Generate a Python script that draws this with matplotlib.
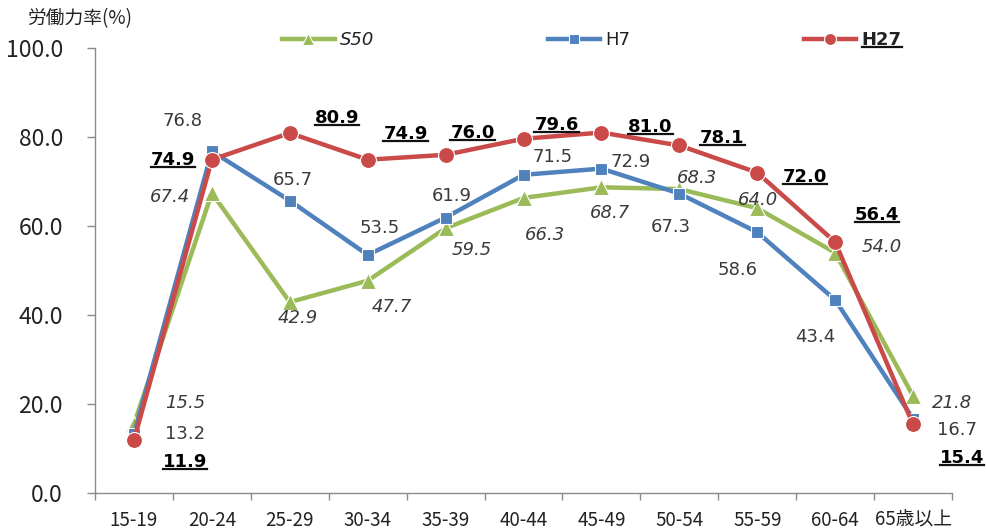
import matplotlib
matplotlib.use("Agg")
import matplotlib.pyplot as plt
from matplotlib.lines import Line2D
import numpy as np

plt.rcParams['font.family'] = ['Noto Sans CJK JP', 'DejaVu Sans']

categories = ["15-19", "20-24", "25-29", "30-34", "35-39", "40-44",
              "45-49", "50-54", "55-59", "60-64", "65歳以上"]
s50 = [15.5, 67.4, 42.9, 47.7, 59.5, 66.3, 68.7, 68.3, 64.0, 54.0, 21.8]
h7 = [13.2, 76.8, 65.7, 53.5, 61.9, 71.5, 72.9, 67.3, 58.6, 43.4, 16.7]
h27 = [11.9, 74.9, 80.9, 74.9, 76.0, 79.6, 81.0, 78.1, 72.0, 56.4, 15.4]
y_ticks = [0, 20, 40, 60, 80, 100]
y_title = "労働力率(%)"
series_names = ["S50", "H7", "H27"]

# label offsets in pixels (dx right, dy down)
off_s50 = [(51, -21), (-42, 4), (8, 16), (24, 26), (26, 22), (21, 37),
           (9, 26), (18, -11), (1, -8), (47, -6), (39, 7)]
off_h7 = [(51, 0), (-29, -30), (3, -21), (12, -27), (6, -22), (29, -18),
          (29, -7), (-9, 33), (-20, 38), (-20, 37), (44, 11)]
off_h27 = [(51, 22), (-39, 0), (47, -15), (38, -26), (27, -22), (33, -14),
           (49, -6), (43, -7), (48, 4), (42, -27), (49, 34)]

green = "#9BBB59"
blue = "#4F81BD"
red = "#C94A48"
gray_txt = "#3a3a3a"

fig = plt.figure(figsize=(9.87, 5.29), dpi=100)
ax = fig.add_axes([95/987, 1-493/529, (952-95)/987, (493-48)/529])

x = np.arange(len(categories))
l1, = ax.plot(x, s50, color=green, lw=3.2, marker='^', ms=12,
              mec='white', mew=0.8, zorder=3, label=series_names[0])
l2, = ax.plot(x, h7, color=blue, lw=3.2, marker='s', ms=9,
              mec='white', mew=0.8, zorder=4, label=series_names[1])
l3, = ax.plot(x, h27, color=red, lw=3.2, marker='o', ms=11.5,
              mec='white', mew=0.8, zorder=5, label=series_names[2])

ax.set_xlim(-0.5, len(categories) - 0.5)
ax.set_ylim(0, 100)
for s in ['top', 'right']:
    ax.spines[s].set_visible(False)
for s in ['left', 'bottom']:
    ax.spines[s].set_color('#8a8a8a')
    ax.spines[s].set_linewidth(1.0)

ax.set_yticks(y_ticks)
ax.set_yticklabels([f"{v:.1f}" for v in y_ticks])
ax.tick_params(axis='y', length=6, width=1, color='#8a8a8a', pad=17,
               labelsize=16.5, labelcolor='#222222')
ax.set_xticks(x)
ax.set_xticklabels(categories)
ax.set_xticks(np.arange(len(categories) + 1) - 0.5, minor=True)
ax.tick_params(axis='x', which='major', length=0, pad=12, labelsize=13.5,
               labelcolor='#222222')
ax.tick_params(axis='x', which='minor', length=5, width=1, color='#8a8a8a')

fig.text(27/987, 1-19/529, y_title, fontsize=13.5, color='#222222',
         ha='left', va='center')

underlined = []
for vals, offs, style, weight, col in [
        (s50, off_s50, 'italic', 'normal', gray_txt),
        (h7, off_h7, 'normal', 'normal', gray_txt),
        (h27, off_h27, 'normal', 'bold', '#000000')]:
    for i, v in enumerate(vals):
        dx, dy = offs[i]
        t = ax.annotate(f"{v:.1f}", (x[i], v), xytext=(dx, -dy),
                        textcoords='offset pixels', ha='center', va='center',
                        fontsize=13, family='DejaVu Sans', fontstyle=style,
                        fontweight=weight, color=col, zorder=6)
        if weight == 'bold':
            underlined.append(t)

leg = fig.legend(handles=[l1, l2, l3], loc='center',
                 bbox_to_anchor=(592/987, 1-40/529), ncol=3, frameon=False,
                 handlelength=2.9, handletextpad=0.3, columnspacing=9.6,
                 markerscale=0.75, prop={'family': 'DejaVu Sans', 'size': 13})
texts = leg.get_texts()
texts[0].set_fontstyle('italic')
texts[2].set_fontweight('bold')
for t in texts:
    t.set_color('#222222')
underlined.append(texts[2])

fig.canvas.draw()
renderer = fig.canvas.get_renderer()
for t in underlined:
    bb = t.get_window_extent(renderer)
    yy = bb.y0 + 2.0
    fig.add_artist(Line2D([bb.x0 / 987 * 1.0, bb.x1 / 987],
                          [yy / 529, yy / 529], transform=fig.transFigure,
                          color='#111111', lw=1.6))

fig.savefig("out.png", dpi=100)
